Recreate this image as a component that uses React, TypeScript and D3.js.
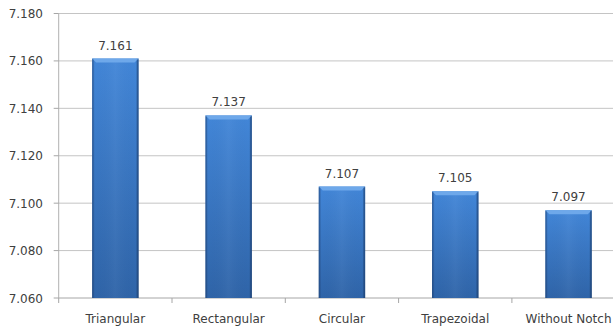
import React from "react";
import * as d3 from "d3";

const categories = ["Triangular", "Rectangular", "Circular", "Trapezoidal", "Without Notch"];
const values = [7.161, 7.137, 7.107, 7.105, 7.097];
const yTicks = [7.06, 7.08, 7.1, 7.12, 7.14, 7.16, 7.18];

const W = 613;
const H = 331;

export default function App() {
  const left = 58.7;
  const top = 13.5;
  const bottom = 298;
  const y = d3.scaleLinear().domain([7.06, 7.18]).range([bottom, top]);
  const x = d3.scaleBand<string>().domain(categories).range([left, left + 5 * 113.3]).padding(0);
  const bw = x.bandwidth();
  const barW = bw * 0.41;
  const font = "'DejaVu Sans', Verdana, sans-serif";
  const fmt = d3.format(".3f");

  return (
    <svg width={W} height={H} style={{ position: "fixed", left: 0, top: 0, background: "#fff" }}>
      <defs>
        <linearGradient id="barV" x1="0" x2="0" y1="0" y2="1">
          <stop offset="0%" stopColor="#4286d8" />
          <stop offset="100%" stopColor="#2f64a8" />
        </linearGradient>
        <linearGradient id="barH" x1="0" x2="1" y1="0" y2="0">
          <stop offset="0%" stopColor="#000" stopOpacity="0.18" />
          <stop offset="6%" stopColor="#000" stopOpacity="0.0" />
          <stop offset="50%" stopColor="#fff" stopOpacity="0.04" />
          <stop offset="94%" stopColor="#000" stopOpacity="0.0" />
          <stop offset="100%" stopColor="#000" stopOpacity="0.28" />
        </linearGradient>
      </defs>
      {/* gridlines */}
      {yTicks.map((t) => (
        <line key={"g" + t} x1={left} x2={W} y1={y(t)} y2={y(t)} stroke={t === 7.06 ? "#a6a6a6" : "#c4c4c4"} strokeWidth={1} />
      ))}
      {/* y axis */}
      <line x1={left} x2={left} y1={top} y2={bottom} stroke="#b0b0b0" strokeWidth={1} />
      {yTicks.map((t) => (
        <g key={"t" + t}>
          <line x1={left - 5} x2={left} y1={y(t)} y2={y(t)} stroke="#a6a6a6" />
          <text x={43} y={y(t) + 4.5} textAnchor="end" fontFamily={font} fontSize={12} fill="#404040">
            {fmt(t)}
          </text>
        </g>
      ))}
      {/* x ticks */}
      {categories.map((c) => (
        <line key={"xt" + c} x1={x(c)!} x2={x(c)!} y1={bottom} y2={bottom + 5} stroke="#a6a6a6" />
      ))}
      {/* bars */}
      {categories.map((c, i) => {
        const cx = x(c)! + bw / 2;
        const bx = cx - barW / 2;
        const by = y(values[i]);
        const bh = bottom - by;
        const b = 4;
        return (
          <g key={"b" + c}>
            <rect x={bx} y={by} width={barW} height={bh} fill="url(#barV)" />
            <rect x={bx} y={by} width={barW} height={bh} fill="url(#barH)" />
            <polygon
              points={`${bx},${by} ${bx + barW},${by} ${bx + barW - b},${by + b} ${bx + b},${by + b}`}
              fill="#6ea8ea"
            />
            <line x1={bx + barW - 1} x2={bx + barW - 1} y1={by + 1} y2={bottom} stroke="#1f467e" strokeOpacity={0.5} strokeWidth={1.5} />
            <line x1={bx + 0.8} x2={bx + 0.8} y1={by + 1} y2={bottom} stroke="#1f467e" strokeOpacity={0.35} strokeWidth={1.5} />
            <text x={cx} y={by - 9} textAnchor="middle" fontFamily={font} fontSize={12} fill="#404040">
              {fmt(values[i])}
            </text>
            <text x={cx} y={323} textAnchor="middle" fontFamily={font} fontSize={12} fill="#404040">
              {c}
            </text>
          </g>
        );
      })}
    </svg>
  );
}
